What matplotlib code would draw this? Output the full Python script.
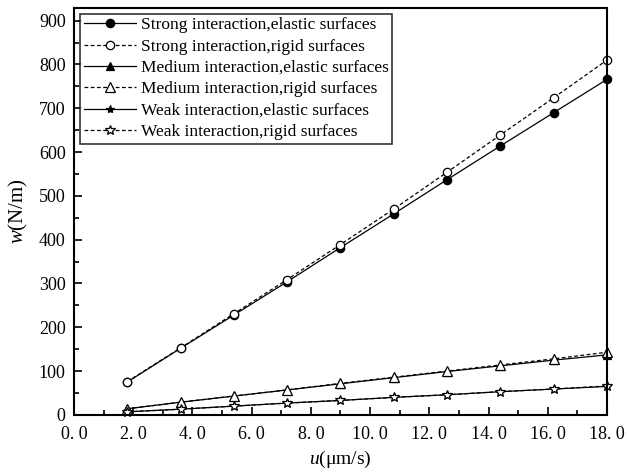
import numpy as np
import matplotlib
matplotlib.use("Agg")
import matplotlib.pyplot as plt
from matplotlib.ticker import MultipleLocator

plt.rcParams['font.family'] = ['Liberation Serif', 'DejaVu Serif']
plt.rcParams['mathtext.fontset'] = 'custom'
plt.rcParams['mathtext.it'] = 'Liberation Serif:italic'
plt.rcParams['mathtext.rm'] = 'Liberation Serif'

# data
u = [1.8, 3.6, 5.4, 7.2, 9.0, 10.8, 12.6, 14.4, 16.2, 18.0]
strong_elastic = [75, 152, 228, 304, 382, 459, 537, 614, 690, 766]
strong_rigid = [76, 153, 231, 309, 389, 470, 554, 639, 724, 810]
medium_elastic = [14, 29, 43, 57, 71, 85, 99, 112, 125, 137]
medium_rigid = [14, 29, 43, 57, 72, 86, 100, 114, 128, 143]
weak_elastic = [7, 13, 20, 27, 33, 40, 46, 53, 59, 65]
weak_rigid = [7, 13, 20, 27, 33, 40, 46, 53, 59, 66]

series = [
    ("Strong interaction,elastic surfaces", strong_elastic, 'o', 'k', '-', 6),
    ("Strong interaction,rigid surfaces", strong_rigid, 'o', 'w', '--', 6),
    ("Medium interaction,elastic surfaces", medium_elastic, '^', 'k', '-', 6),
    ("Medium interaction,rigid surfaces", medium_rigid, '^', 'w', '--', 7),
    ("Weak interaction,elastic surfaces", weak_elastic, '*', 'k', '-', 6),
    ("Weak interaction,rigid surfaces", weak_rigid, '*', 'w', '--', 7),
]

fig = plt.figure(figsize=(6.27, 4.72), dpi=100)
ax = fig.add_axes([0.118, 0.121, 0.850, 0.863])

for label, vals, mk, fc, ls, ms in series:
    ax.plot(u, vals, color='k', linestyle=ls, linewidth=0.9,
            dashes=(3, 2) if ls == '--' else (None, None),
            marker=mk, markersize=ms, markerfacecolor=fc,
            markeredgecolor='k', markeredgewidth=0.9, label=label, clip_on=False)

ax.set_xlim(0, 18)
ax.set_ylim(0, 930)
ax.xaxis.set_major_locator(MultipleLocator(2))
ax.xaxis.set_minor_locator(MultipleLocator(1))
ax.yaxis.set_major_locator(MultipleLocator(100))
ax.yaxis.set_minor_locator(MultipleLocator(50))
xt = np.arange(0, 19, 2)
ax.set_xticks(xt)
ax.set_xticklabels(["%d. %d" % (int(v), 0) for v in xt])
ax.tick_params(which='both', direction='in', top=False, right=False,
               labelsize=13, width=1.2)
ax.tick_params(which='major', length=6)
ax.tick_params(which='minor', length=3.5)
ax.tick_params(axis='x', pad=8)
ax.tick_params(axis='y', pad=6)
for s in ax.spines.values():
    s.set_linewidth(1.5)

ax.set_xlabel(r'$u$(μm/s)', fontsize=14, labelpad=4)
ax.set_ylabel(r'$w$(N/m)', fontsize=15, labelpad=6)

leg = ax.legend(loc='upper left', fontsize=12.5, frameon=True, fancybox=False,
                edgecolor='k', handlelength=3.0, handletextpad=0.3,
                labelspacing=0.3, borderaxespad=0.35, borderpad=0.2)
leg.get_frame().set_linewidth(1.2)

fig.savefig("out.png", dpi=100)
